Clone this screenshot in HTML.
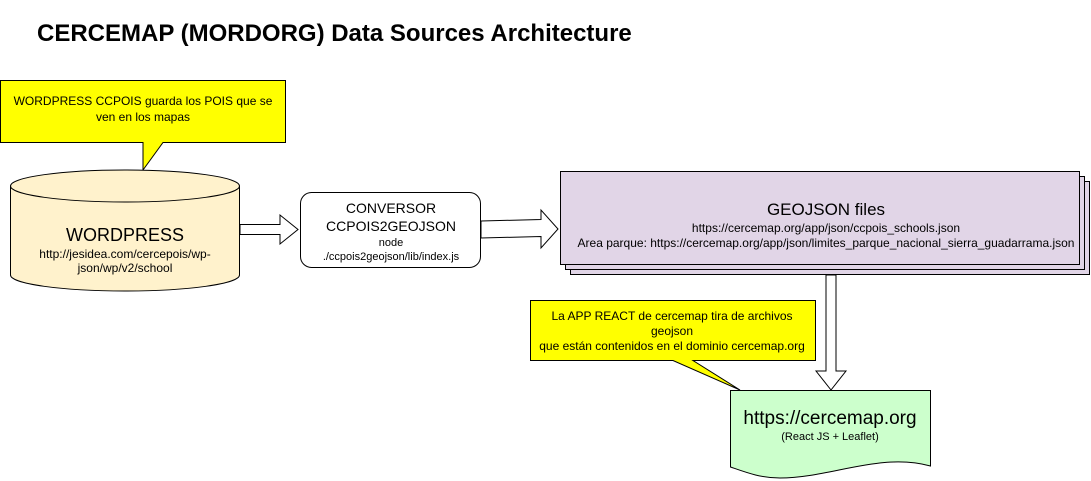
<!DOCTYPE html>
<html><head><meta charset="utf-8"><style>
html,body{margin:0;padding:0;background:#fff;}
svg{display:block;font-family:"Liberation Sans",Arial,sans-serif;}
</style></head><body>
<svg width="1091" height="481" viewBox="0 0 1091 481" xmlns="http://www.w3.org/2000/svg">
<text x="37" y="41" font-size="24" font-weight="bold" fill="#000">CERCEMAP (MORDORG) Data Sources Architecture</text>

<!-- callout 1 -->
<path d="M0.5,80.5 H285.5 V142.5 H163 L143,170 L143,142.5 H0.5 Z" fill="#ffff00" stroke="#000" stroke-width="1"/>
<text x="143" y="105" font-size="12" text-anchor="middle">WORDPRESS CCPOIS guarda los POIS que se</text>
<text x="143" y="121" font-size="12" text-anchor="middle">ven en los mapas</text>

<!-- cylinder -->
<path d="M10.5,186 A114.5,16 0 0 1 239.5,186 V275 A114.5,16 0 0 1 10.5,275 Z" fill="#fff2cc" stroke="#000"/>
<path d="M10.5,186 A114.5,16 0 0 0 239.5,186" fill="none" stroke="#000"/>
<text x="125" y="241" font-size="18" text-anchor="middle">WORDPRESS</text>
<text x="125" y="258" font-size="12" text-anchor="middle">http://jesidea.com/cercepois/wp-</text>
<text x="125" y="272" font-size="12" text-anchor="middle">json/wp/v2/school</text>

<!-- arrow 1 -->
<path d="M240,224.5 H280 V215 L298,229.5 L280,244 V234.5 H240 Z" fill="#fff" stroke="#000"/>

<!-- conversor -->
<rect x="300.5" y="192.5" width="180" height="75" rx="11" fill="#fff" stroke="#000"/>
<text x="391" y="213" font-size="14" text-anchor="middle">CONVERSOR</text>
<text x="391" y="231" font-size="14" text-anchor="middle">CCPOIS2GEOJSON</text>
<text x="391" y="246" font-size="11" text-anchor="middle">node</text>
<text x="391" y="260" font-size="11" text-anchor="middle">./ccpois2geojson/lib/index.js</text>

<!-- arrow 2 -->
<path d="M481,221 L541,219.5 V210 L558,229 L541,248 V236.5 L481,238 Z" fill="#fff" stroke="#000"/>

<!-- geojson stack -->
<rect x="570.5" y="181.5" width="519" height="93" fill="#e1d5e7" stroke="#000"/>
<rect x="565.5" y="176.5" width="519" height="93" fill="#e1d5e7" stroke="#000"/>
<rect x="560.5" y="171.5" width="519" height="93" fill="#e1d5e7" stroke="#000"/>
<text x="826" y="215" font-size="17" text-anchor="middle">GEOJSON files</text>
<text x="826" y="232" font-size="12" text-anchor="middle">https://cercemap.org/app/json/ccpois_schools.json</text>
<text x="826" y="247" font-size="12" text-anchor="middle">Area parque: https://cercemap.org/app/json/limites_parque_nacional_sierra_guadarrama.json</text>

<!-- down arrow -->
<path d="M826,275 H836 V371 H846 L831,390 L816,371 H826 Z" fill="#fff" stroke="#000"/>

<!-- callout 2 -->
<path d="M530.5,300.5 H815.5 V360.5 H693 L740,390 L673,360.5 H530.5 Z" fill="#ffff00" stroke="#000"/>
<text x="672" y="320" font-size="12" text-anchor="middle">La APP REACT de cercemap tira de archivos</text>
<text x="672" y="335" font-size="12" text-anchor="middle">geojson</text>
<text x="672" y="350" font-size="12" text-anchor="middle">que están contenidos en el dominio cercemap.org</text>

<!-- document -->
<path d="M730.5,390.5 H930.5 V466 C880,452 830,478 780,478 C760,478 745,472 730.5,467 Z" fill="#ccffcc" stroke="#000"/>
<text x="830" y="424" font-size="19" text-anchor="middle">https://cercemap.org</text>
<text x="830" y="440" font-size="11" text-anchor="middle">(React JS + Leaflet)</text>
</svg>
</body></html>
